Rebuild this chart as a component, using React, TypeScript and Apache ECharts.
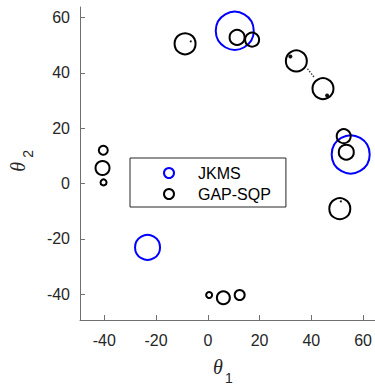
import React, { useEffect, useRef } from "react";
import * as echarts from "echarts";

// JKMS estimates (theta1, theta2) and marker diameters
const jkmsTheta1 = [10.4, 55.2, -23.3];
const jkmsTheta2 = [55.2, 10.5, -23.1];
const jkmsSize = [38, 38, 25];

// GAP-SQP estimates
const gapTheta1 = [-8.8, 11.3, 17.1, 34.2, 44.5, 52.5, 53.5, 51.0, -40.4, -40.7, -40.3, 0.5, 6.0, 12.3];
const gapTheta2 = [50.5, 52.8, 52.0, 44.3, 34.3, 17.1, 11.3, -9.1, 12.0, 5.6, 0.4, -40.3, -41.3, -40.3];
const gapSize = [21, 15, 14, 21, 21, 14, 15, 21, 9, 14, 6, 6, 13, 10];

// small filled points
const dotTheta1 = [31.9, 46.1, -6.6, 51.4];
const dotTheta2 = [45.9, 31.8, 51.4, -6.5];
const dotSize = [4, 4, 2, 2];

// dotted connector
const linkTheta1 = [38.5, 41.0];
const linkTheta2 = [41.5, 38.5];

const tickValues = [-40, -20, 0, 20, 40, 60];

const FONT = "'Liberation Sans', Arial, sans-serif";

export default function App() {
  const ref = useRef<HTMLDivElement>(null);
  useEffect(() => {
    if (!ref.current) return;
    const chart = echarts.init(ref.current, undefined, { renderer: "svg" });
    const axisCommon = {
      type: "value",
      axisLine: { show: true, onZero: false, lineStyle: { color: "#707070", width: 1 } },
      axisTick: { show: true, inside: true, length: 5, lineStyle: { color: "#707070" }, customValues: tickValues },
      axisLabel: { color: "#262626", fontSize: 16, fontFamily: FONT, margin: 10, customValues: tickValues },
      splitLine: { show: false },
    };
    chart.setOption({
      animation: false,
      grid: { left: 80, right: 0, top: 7, bottom: 65, containLabel: false },
      xAxis: { ...axisCommon, min: -49.4, max: 64.5, axisLabel: { ...axisCommon.axisLabel, margin: 12 } },
      yAxis: { ...axisCommon, min: -49.35, max: 63.8 },
      legend: {
        orient: "vertical",
        left: 130,
        top: 158,
        padding: [7, 15, 5, 33],
        borderColor: "#262626",
        borderWidth: 1,
        itemWidth: 48,
        itemHeight: 10,
        itemGap: 5,
        textStyle: { fontSize: 16, lineHeight: 16, color: "#000", fontFamily: FONT },
        data: [
          { name: "JKMS", icon: "circle", itemStyle: { color: "rgba(0,0,0,0)", borderColor: "#0000ff", borderWidth: 2 } },
          { name: "GAP-SQP", icon: "circle", itemStyle: { color: "rgba(0,0,0,0)", borderColor: "#000000", borderWidth: 2 } },
        ],
      },
      series: [
        {
          name: "JKMS",
          type: "scatter",
          data: jkmsTheta1.map((v, i) => [v, jkmsTheta2[i], jkmsSize[i]]),
          symbol: "circle",
          symbolSize: (d: number[]) => d[2],
          itemStyle: { color: "rgba(0,0,0,0)", borderColor: "#0000ff", borderWidth: 2, opacity: 1 },
          z: 2,
        },
        {
          name: "GAP-SQP",
          type: "scatter",
          data: gapTheta1.map((v, i) => [v, gapTheta2[i], gapSize[i]]),
          symbol: "circle",
          symbolSize: (d: number[]) => d[2],
          itemStyle: { color: "rgba(0,0,0,0)", borderColor: "#000000", borderWidth: 2, opacity: 1 },
          z: 3,
        },
        {
          name: "points",
          type: "scatter",
          data: dotTheta1.map((v, i) => [v, dotTheta2[i], dotSize[i]]),
          symbol: "circle",
          symbolSize: (d: number[]) => d[2],
          itemStyle: { color: "#111", opacity: 1 },
          z: 4,
        },
        {
          name: "link",
          type: "line",
          data: linkTheta1.map((v, i) => [v, linkTheta2[i]]),
          symbol: "none",
          lineStyle: { type: "dotted", color: "#444", width: 1.5 },
          z: 1,
        },
      ],
      graphic: [
        {
          type: "group",
          left: 213,
          top: 357,
          children: [
            { type: "text", x: 0, y: 0, style: { text: "\u03b8", font: "italic 20px 'Liberation Serif', serif", fill: "#262626" } },
            { type: "text", x: 12, y: 14, style: { text: "1", font: "14px " + FONT, fill: "#262626" } },
          ],
        },
        {
          type: "group",
          left: 8,
          top: 150,
          children: [
            {
              type: "text",
              x: 4,
              y: 28,
              rotation: Math.PI / 2,
              style: { text: "\u03b8", font: "italic 20px 'Liberation Serif', serif", fill: "#262626" },
            },
            {
              type: "text",
              x: 17,
              y: 14,
              rotation: Math.PI / 2,
              style: { text: "2", font: "14px " + FONT, fill: "#262626" },
            },
          ],
        },
      ],
    });
    return () => chart.dispose();
  }, []);
  return <div ref={ref} style={{ width: 375, height: 385, position: "absolute", left: 0, top: 0 }} />;
}
